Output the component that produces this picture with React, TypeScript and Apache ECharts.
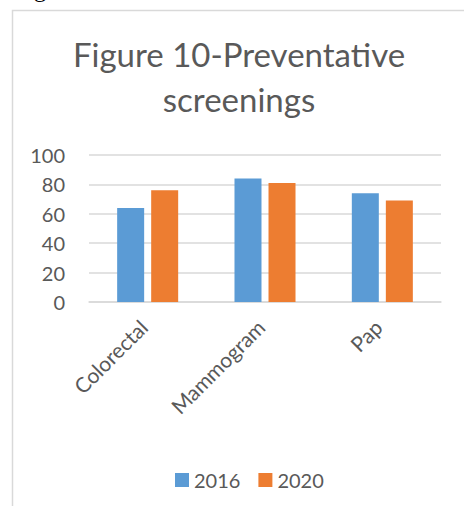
import React, { useEffect, useRef } from "react";
import * as echarts from "echarts";

const categories = ["Colorectal", "Mammogram", "Pap"];
const series2016 = [64, 84, 74];
const series2020 = [76, 81, 69];
const seriesNames = ["2016", "2020"];
const titleText = "Figure 10-Preventative\nscreenings";

const FONT = "Lato, 'Open Sans', sans-serif";
const GREY = "#595959";

export default function App() {
  const ref = useRef<HTMLDivElement>(null);
  useEffect(() => {
    document.body.style.margin = "0";
    const chart = echarts.init(ref.current!, null, { renderer: "svg" });
    chart.setOption({
      animation: false,
      backgroundColor: "#ffffff",
      title: {
        text: titleText,
        left: 234,
        top: 26,
        textAlign: "center",
        textStyle: {
          fontFamily: FONT,
          fontSize: 33,
          fontWeight: "normal",
          color: GREY,
          lineHeight: 45,
        },
      },
      graphic: [
        {
          type: "rect",
          shape: { x: 12.5, y: 10.5, width: 470, height: 520 },
          style: { fill: "none", stroke: "#d9d9d9", lineWidth: 1.5 },
          silent: true,
        },
        {
          type: "text",
          x: 34,
          y: 1,
          style: {
            text: "g",
            font: "24px 'Liberation Serif', serif",
            fill: "#000",
            textVerticalAlign: "bottom",
            verticalAlign: "bottom",
          },
          silent: true,
        },
      ],
      legend: {
        data: seriesNames,
        left: 170,
        top: 465,
        itemWidth: 14,
        itemHeight: 14,
        itemGap: 18,
        icon: "rect",
        textStyle: { fontFamily: FONT, fontSize: 20, color: GREY },
      },
      grid: { left: 89, right: 23, top: 155, bottom: 204, containLabel: false },
      xAxis: {
        type: "category",
        data: categories,
        axisLine: { lineStyle: { color: "#d9d9d9", width: 1.5 } },
        axisTick: { show: false },
        axisLabel: {
          rotate: 45,
          margin: 17,
          padding: [0, 6, 0, 0],
          fontFamily: FONT,
          fontSize: 21,
          color: GREY,
          interval: 0,
        },
      },
      yAxis: {
        type: "value",
        min: 0,
        max: 100,
        interval: 20,
        axisLine: { show: false },
        axisTick: { show: false },
        splitLine: { lineStyle: { color: "#d9d9d9", width: 1.5 } },
        axisLabel: { margin: 24, fontFamily: FONT, fontSize: 20, color: GREY },
      },
      series: [
        {
          name: seriesNames[0],
          type: "bar",
          data: series2016,
          barWidth: 27,
          barGap: "26%",
          itemStyle: { color: "#5B9BD5" },
        },
        {
          name: seriesNames[1],
          type: "bar",
          data: series2020,
          barWidth: 27,
          itemStyle: { color: "#ED7D31" },
        },
      ],
    });
    return () => chart.dispose();
  }, []);
  return (
    <div
      ref={ref}
      style={{ position: "fixed", left: 0, top: 0, width: 464, height: 506 }}
    />
  );
}
